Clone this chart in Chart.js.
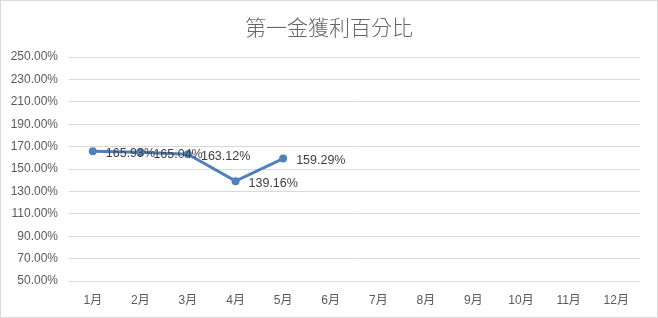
<!DOCTYPE html>
<html>
<head>
<meta charset="utf-8">
<script src="https://cdn.jsdelivr.net/npm/chart.js@4"></script>
<style>
  html, body { margin: 0; padding: 0; background: #fff; }
  #wrap { width: 656px; height: 316px; border: 1px solid #d9d9d9; }
</style>
</head>
<body>
<div id="wrap"><canvas id="chart" width="656" height="316"></canvas></div>
<script>
const months = ["1月","2月","3月","4月","5月","6月","7月","8月","9月","10月","11月","12月"];
const profitPct = [165.93, 165.04, 163.12, 139.16, 159.29];
const chartTitle = "第一金獲利百分比";

const FONT = "'Liberation Sans', 'Noto Sans CJK SC', sans-serif";

// draw the value labels to the right of each point, and the title centred on the canvas
const textPlugin = {
    id: 'textPlugin',
    afterDatasetsDraw(chart) {
        let ctx = chart.ctx;
        let meta = chart.getDatasetMeta(0);
        ctx.save();
        ctx.font = "12.5px " + FONT;
        ctx.fillStyle = "#404040";
        ctx.textAlign = "left";
        ctx.textBaseline = "middle";
        meta.data.forEach((pt, i) => {
            ctx.fillText(profitPct[i].toFixed(2) + "%", pt.x + 13, pt.y + 2);
        });
        ctx.font = "300 21px 'Noto Sans CJK TC', sans-serif";
        ctx.fillStyle = "#666666";
        ctx.textAlign = "center";
        ctx.fillText(chartTitle, chart.width / 2, 26);
        ctx.restore();
    }
};

new Chart(document.getElementById("chart"), {
    type: 'line',
    data: {
        labels: months,
        datasets: [{
            data: profitPct,
            borderColor: '#4f81bd',
            backgroundColor: '#4f81bd',
            borderWidth: 3,
            pointRadius: 4,
            pointBorderWidth: 0,
            tension: 0
        }]
    },
    options: {
        responsive: false,
        animation: false,
        layout: { padding: { left: 0, right: 17, top: 56, bottom: 0 } },
        plugins: {
            legend: { display: false },
            tooltip: { enabled: false },
            title: { display: false }
        },
        scales: {
            x: {
                offset: true,
                grid: { display: false },
                border: { display: false },
                ticks: { color: '#595959', font: { family: FONT, size: 12 }, padding: 4 },
                afterFit(scale) { scale.height = 36; }
            },
            y: {
                min: 50,
                max: 250,
                grid: { color: '#d9d9d9', drawTicks: false },
                border: { display: false },
                ticks: {
                    stepSize: 20,
                    color: '#595959',
                    font: { family: FONT, size: 12 },
                    padding: 11,
                    callback: v => v.toFixed(2) + "%"
                },
                afterFit(scale) { scale.width = 68; }
            }
        }
    },
    plugins: [textPlugin]
});
</script>
</body>
</html>
